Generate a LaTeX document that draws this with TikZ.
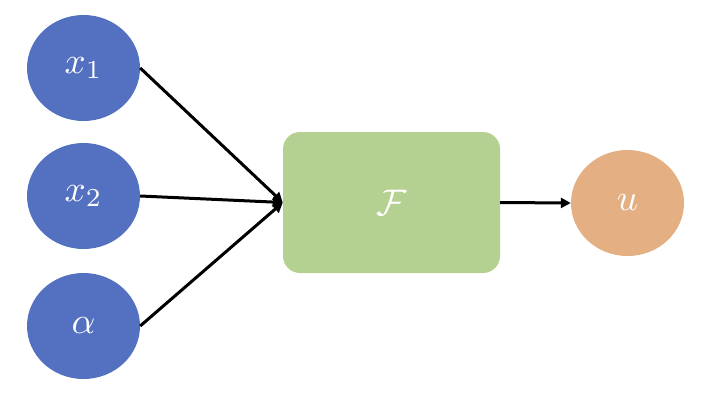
\documentclass[tikz,border=0pt]{standalone}
\usetikzlibrary{arrows.meta,shapes.geometric}
\definecolor{inblue}{RGB}{84,112,192}
\definecolor{boxgreen}{RGB}{180,209,145}
\definecolor{outorange}{RGB}{227,175,131}
\newcommand{\lblmath}[1]{\raisebox{-4pt}{\scalebox{3.7}{$#1$}}}
\begin{document}
\begin{tikzpicture}[x=1pt,y=-1pt,
  varnode/.style={ellipse, minimum width=113pt, minimum height=106pt, inner sep=0pt, text=white},
  conn/.style={line width=3pt, -{Triangle[length=10pt,width=10pt]}}]
\useasboundingbox (0,0) rectangle (703,407);
\node[varnode, fill=inblue] (x1) at (83.5,68) {\lblmath{x_1}};
\node[varnode, fill=inblue] (x2) at (83.5,196) {\lblmath{x_2}};
\node[varnode, fill=inblue] (al) at (83.5,326) {\lblmath{\alpha}};
\node[draw=none, fill=boxgreen, rounded corners=17pt, minimum width=217pt, minimum height=141pt, inner sep=0pt, text=white] (F) at (391.5,202.5) {\lblmath{\mathcal{F}}};
\node[varnode, fill=outorange] (u) at (627.5,203) {\lblmath{u}};
\draw[conn] (x1.east) -- (F.west);
\draw[conn] (x2.east) -- (F.west);
\draw[conn] (al.east) -- (F.west);
\draw[conn] (F.east) -- (u.west);
\end{tikzpicture}
\end{document}
